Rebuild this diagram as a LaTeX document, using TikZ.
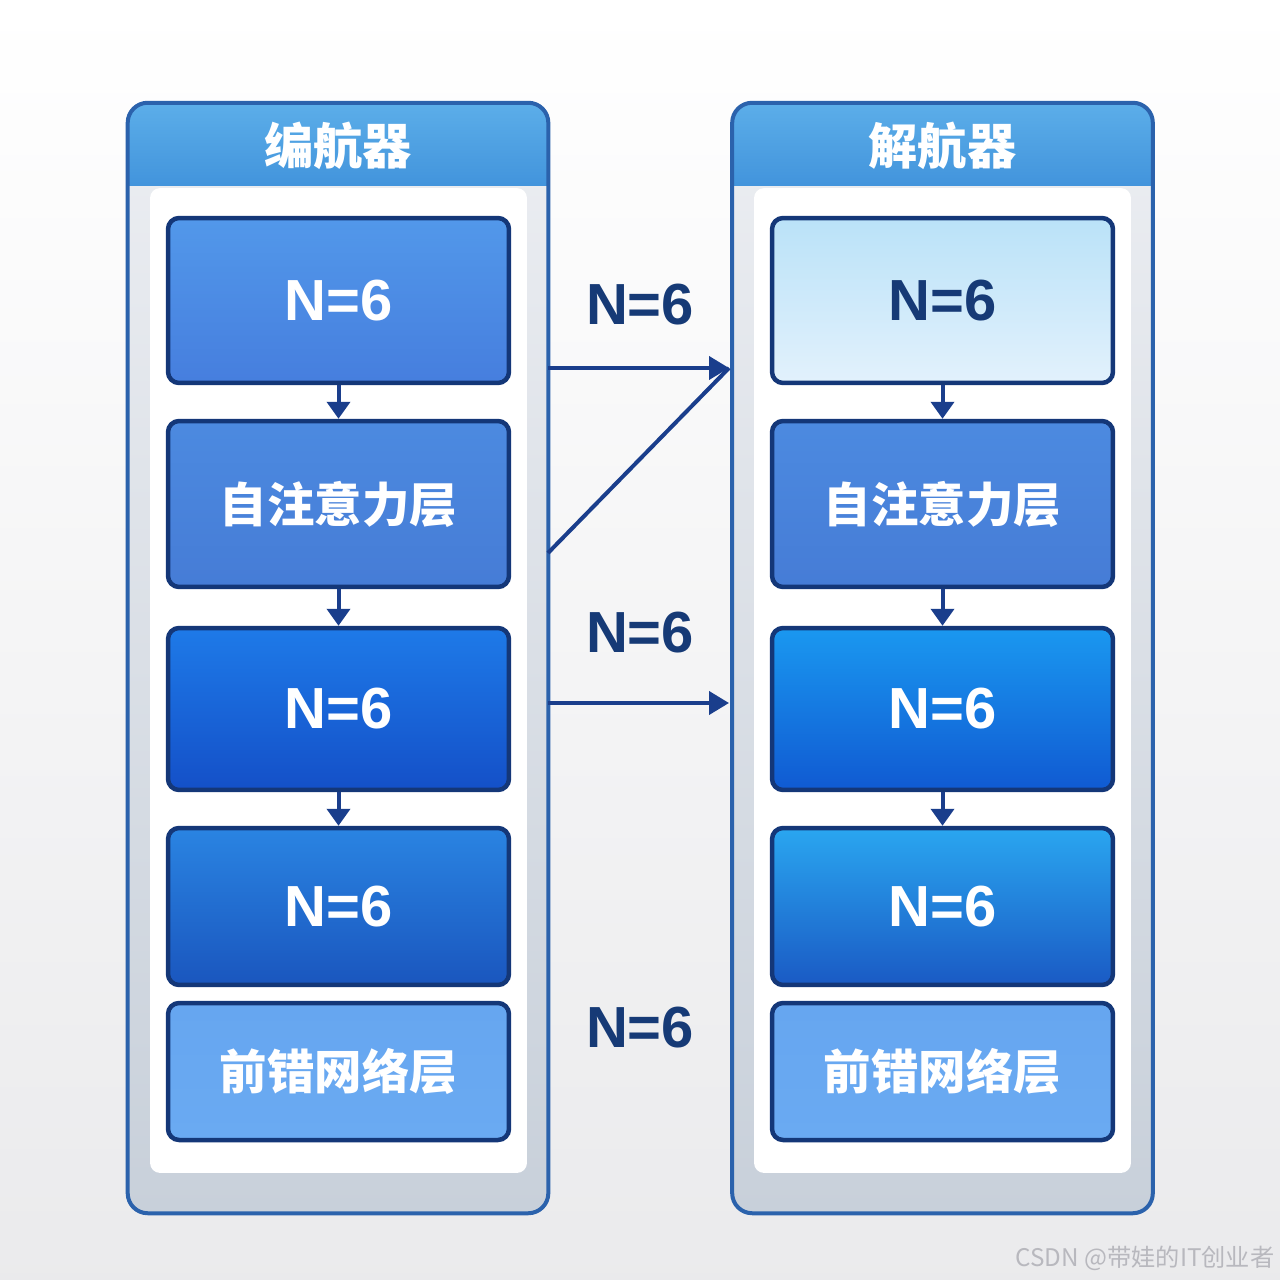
\documentclass[tikz,border=0pt]{standalone}
\usepackage{fontspec}
\setmainfont{Liberation Sans}
\newfontfamily\cjk{Noto Sans CJK SC}
\usepackage{tikz}
\usetikzlibrary{arrows.meta, positioning, calc}
\definecolor{mybg}{RGB}{240,240,242}
\definecolor{myframe}{RGB}{43,98,172}
\definecolor{mynavy}{RGB}{20,55,120}
\definecolor{myarrow}{RGB}{26,62,140}
\definecolor{mytext}{RGB}{22,58,118}
\definecolor{hdrtop}{RGB}{92,174,233}
\definecolor{hdrbot}{RGB}{66,148,220}
\definecolor{bodytop}{RGB}{236,238,242}
\definecolor{bodybot}{RGB}{200,208,218}
\definecolor{bluetopA}{RGB}{82,152,234}
\definecolor{bluebotA}{RGB}{70,126,222}
\definecolor{bluetopB}{RGB}{76,138,224}
\definecolor{bluebotB}{RGB}{70,124,214}
\definecolor{bluetopC}{RGB}{30,122,232}
\definecolor{bluebotC}{RGB}{20,80,200}
\definecolor{bluetopD}{RGB}{42,132,226}
\definecolor{bluebotD}{RGB}{26,86,190}
\definecolor{bluetopE}{RGB}{102,166,240}
\definecolor{bluebotE}{RGB}{106,170,242}
\definecolor{skytop}{RGB}{186,226,248}
\definecolor{skybot}{RGB}{226,241,252}
\definecolor{cyantopC}{RGB}{26,152,240}
\definecolor{cyanbotC}{RGB}{16,90,210}
\definecolor{cyantopD}{RGB}{42,166,240}
\definecolor{cyanbotD}{RGB}{26,90,196}
\definecolor{mark}{RGB}{184,184,190}
\tikzset{
  frame/.style={rectangle, rounded corners=0.4cm,
    minimum width=8.4cm, minimum height=22.2cm,
    top color=bodytop, bottom color=bodybot},
  frameline/.style={draw=myframe, line width=0.08cm, rounded corners=0.4cm},
  panel/.style={rectangle, fill=white, rounded corners=0.2cm,
    minimum width=7.54cm, minimum height=19.7cm},
  layer/.style={rectangle, draw=mynavy, line width=0.09cm,
    rounded corners=0.22cm, minimum width=6.82cm, text=white,
    font=\fontsize{33}{36}\selectfont\bfseries},
  cnlayer/.style={layer, font=\cjk\fontsize{27}{30}\selectfont\bfseries},
  title/.style={font=\cjk\fontsize{28}{32}\selectfont\bfseries, text=white},
  count/.style={font=\fontsize{33}{36}\selectfont\bfseries, text=mytext},
  downarrow/.style={-{Triangle[width=0.46cm,length=0.34cm]},
    line width=0.08cm, color=myarrow},
  link/.style={line width=0.08cm, color=myarrow},
  linkarrow/.style={link, -{Triangle[width=0.46cm,length=0.4cm]}}
}

\begin{document}
\begin{tikzpicture}[x=0.02cm, y=-0.02cm]
  \useasboundingbox[top color=white, bottom color=mybg!95!gray] (0,0) rectangle (1280,1280);

  % Encoder
  \node[frame] (enc) at (338,658) {};
  \begin{scope}
    \clip[rounded corners=0.4cm] (enc.north west) rectangle (enc.south east);
    \shade[top color=hdrtop, bottom color=hdrbot] (enc.north west) rectangle (548,186);
  \end{scope}
  \draw[frameline] (enc.north west) rectangle (enc.south east);
  \node[title] (encT) at (338,146) {编航器};
  \node[panel] (encP) at (338.5,680.5) {};

  \node[layer, top color=bluetopA, bottom color=bluebotA, minimum height=3.3cm] (encA) at (338.5,300.5) {N=6};
  \node[cnlayer, top color=bluetopB, bottom color=bluebotB, minimum height=3.32cm] (encB) at (338.5,504) {自注意力层};
  \node[layer, top color=bluetopC, bottom color=bluebotC, minimum height=3.24cm] (encC) at (338.5,709) {N=6};
  \node[layer, top color=bluetopD, bottom color=bluebotD, minimum height=3.14cm] (encD) at (338.5,906.5) {N=6};
  \node[cnlayer, top color=bluetopE, bottom color=bluebotE, minimum height=2.74cm] (encE) at (338.5,1071.5) {前错网络层};

  \draw[downarrow] (encA.south) -- (encB.north);
  \draw[downarrow] (encB.south) -- (encC.north);
  \draw[downarrow] (encC.south) -- (encD.north);

  % Decoder
  \node[frame] (dec) at (942.5,658) {};
  \begin{scope}
    \clip[rounded corners=0.4cm] (dec.north west) rectangle (dec.south east);
    \shade[top color=hdrtop, bottom color=hdrbot] (dec.north west) rectangle (1153,186);
  \end{scope}
  \draw[frameline] (dec.north west) rectangle (dec.south east);
  \node[title] (decT) at (942.5,146) {解航器};
  \node[panel] (decP) at (942.5,680.5) {};

  \node[layer, top color=skytop, bottom color=skybot, text=mytext, minimum height=3.3cm] (decA) at (942.5,300.5) {N=6};
  \node[cnlayer, top color=bluetopB, bottom color=bluebotB, minimum height=3.32cm] (decB) at (942.5,504) {自注意力层};
  \node[layer, top color=cyantopC, bottom color=cyanbotC, minimum height=3.24cm] (decC) at (942.5,709) {N=6};
  \node[layer, top color=cyantopD, bottom color=cyanbotD, minimum height=3.14cm] (decD) at (942.5,906.5) {N=6};
  \node[cnlayer, top color=bluetopE, bottom color=bluebotE, minimum height=2.74cm] (decE) at (942.5,1071.5) {前错网络层};

  \draw[downarrow] (decA.south) -- (decB.north);
  \draw[downarrow] (decB.south) -- (decC.north);
  \draw[downarrow] (decC.south) -- (decD.north);

  % Counts between the stacks
  \node[count] (cntA) at (640,305) {N=6};
  \node[count] (cntB) at (640,633) {N=6};
  \node[count] (cntC) at (640,1028) {N=6};

  % Links
  \coordinate (encOutA) at (548,368);
  \coordinate (encOutB) at (548,553);
  \coordinate (encOutC) at (548,703);
  \coordinate (decInA) at (729,368);
  \coordinate (decInC) at (729,703);
  \draw[linkarrow] (encOutA) -- (decInA);
  \draw[link] (encOutB) -- (decInA);
  \draw[linkarrow] (encOutC) -- (decInC);

  % Watermark
  \node[font=\cjk\fontsize{13.8}{15}\selectfont, text=mark] (wm) at (1145,1258) {CSDN @带娃的IT创业者};
\end{tikzpicture}
\end{document}
